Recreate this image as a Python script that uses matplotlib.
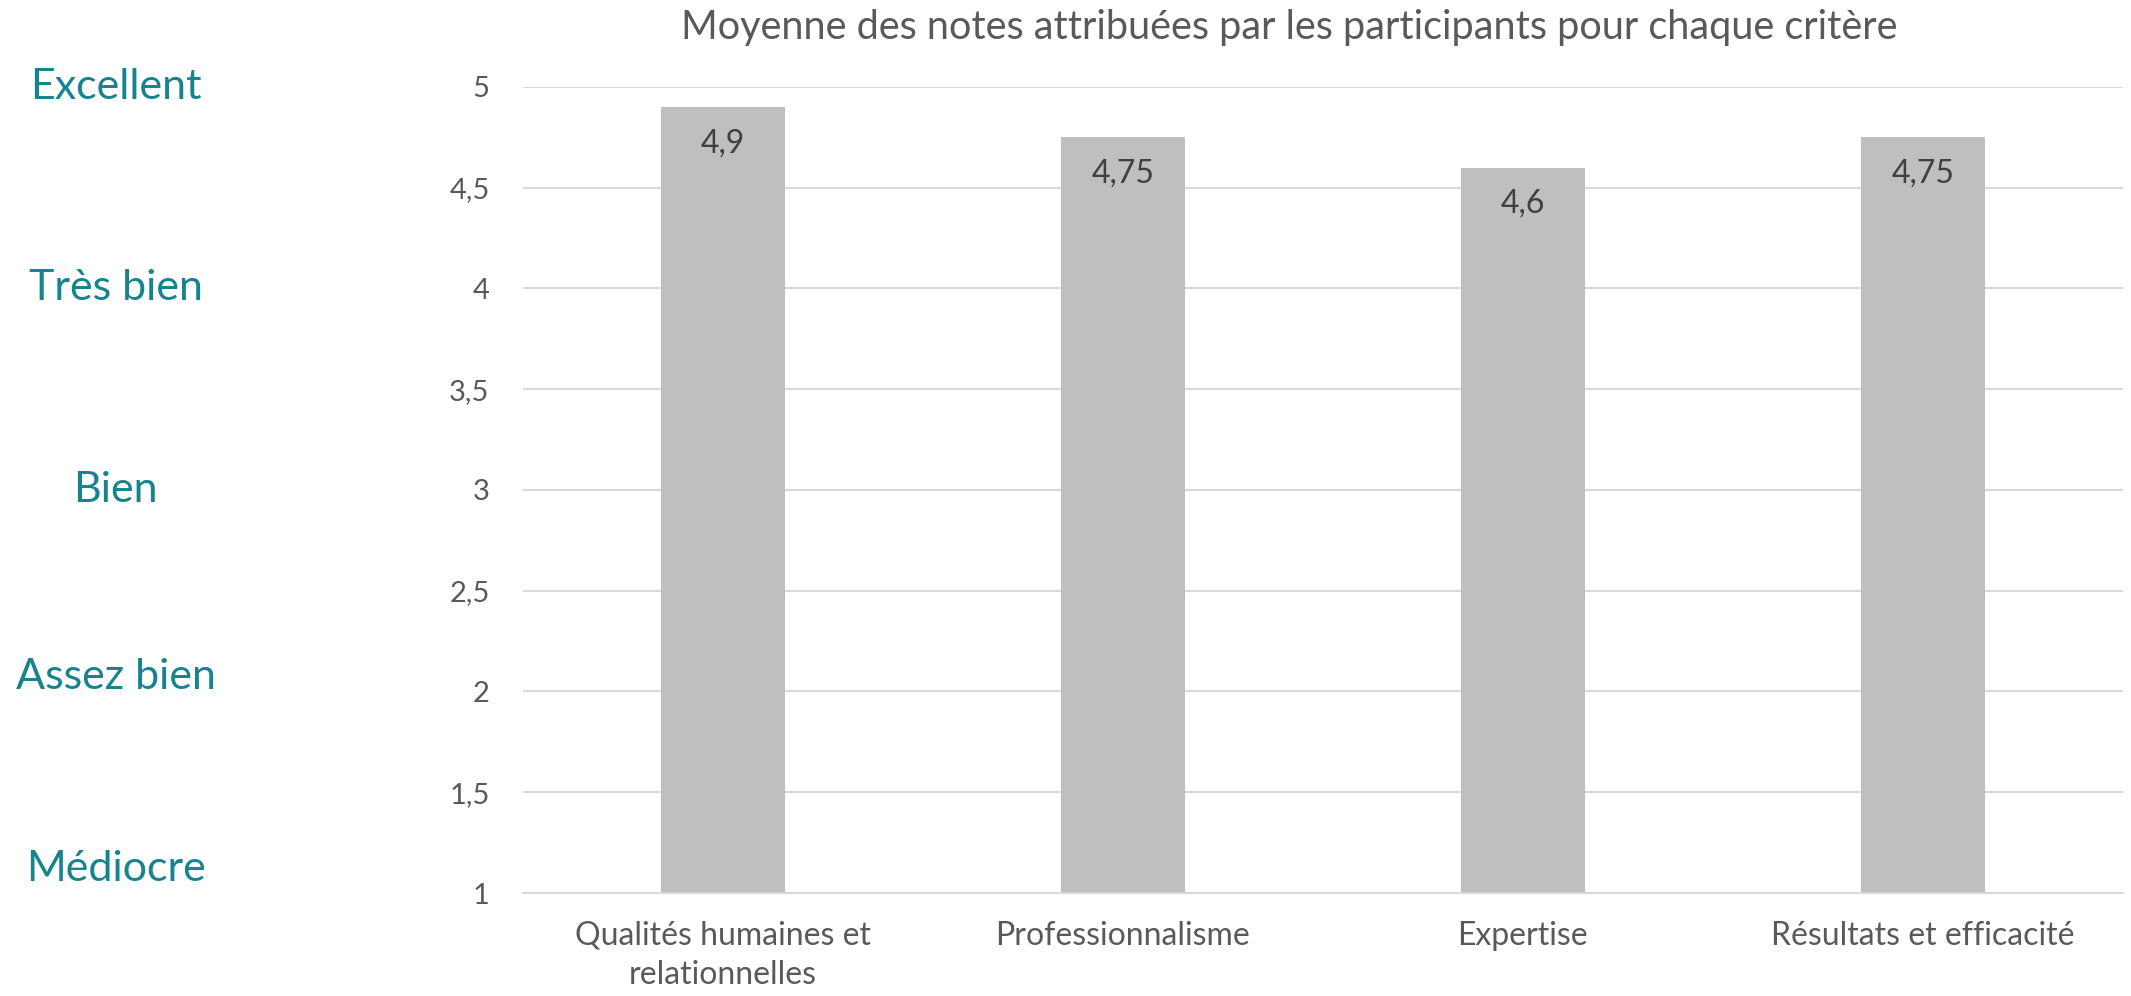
import matplotlib.pyplot as plt
import matplotlib.transforms as mtransforms

plt.rcParams['font.family'] = ['Lato', 'DejaVu Sans']

criteres = ['Qualités humaines et\nrelationnelles', 'Professionnalisme',
            'Expertise', 'Résultats et efficacité']
moyennes = [4.9, 4.75, 4.6, 4.75]
etiquettes = ['4,9', '4,75', '4,6', '4,75']

yticks = [1, 1.5, 2, 2.5, 3, 3.5, 4, 4.5, 5]
ytick_labels = ['1', '1,5', '2', '2,5', '3', '3,5', '4', '4,5', '5']

appreciations = ['Excellent', 'Très bien', 'Bien', 'Assez bien', 'Médiocre']
appreciation_y = [5.0, 4.0, 3.0, 2.07, 1.12]

TEAL = '#17838f'
GREY_TXT = '#595959'

fig = plt.figure(figsize=(21.31, 9.96), dpi=100)
ax = fig.add_axes([0.2454, 0.1034, 0.7508, 0.8093])

x = range(len(criteres))
bars = ax.bar(x, moyennes, width=0.31, color='#bfbfbf', zorder=2)
ax.set_xlim(-0.5, len(criteres) - 0.5)
ax.set_ylim(1, 5)

for b, lab in zip(bars, etiquettes):
    ax.annotate(lab, (b.get_x() + b.get_width() / 2, b.get_height()),
                xytext=(0, -26), textcoords='offset points',
                ha='center', va='center', fontsize=23, color='#404040')

ax.set_yticks(yticks)
ax.set_yticklabels(ytick_labels)
ax.set_xticks(list(x))
ax.set_xticklabels(criteres, linespacing=1.4)
ax.tick_params(axis='y', length=0, pad=24, labelsize=21, labelcolor=GREY_TXT)
ax.tick_params(axis='x', length=0, pad=20, labelsize=23, labelcolor=GREY_TXT)

ax.grid(axis='y', color='#d9d9d9', linewidth=1.5, zorder=0)
for s in ['top', 'right', 'left']:
    ax.spines[s].set_visible(False)
ax.spines['bottom'].set_color('#d9d9d9')
ax.spines['bottom'].set_linewidth(1.5)

trans = mtransforms.blended_transform_factory(fig.transFigure, ax.transData)
for lab, yv in zip(appreciations, appreciation_y):
    fig.text(0.0544, yv, lab, transform=trans, ha='center', va='center',
             fontsize=31, color=TEAL)

fig.text(0.605, 0.972, 'Moyenne des notes attribuées par les participants pour chaque critère',
         ha='center', va='center', fontsize=28.5, color=GREY_TXT)

fig.savefig('out.png', dpi=100)
